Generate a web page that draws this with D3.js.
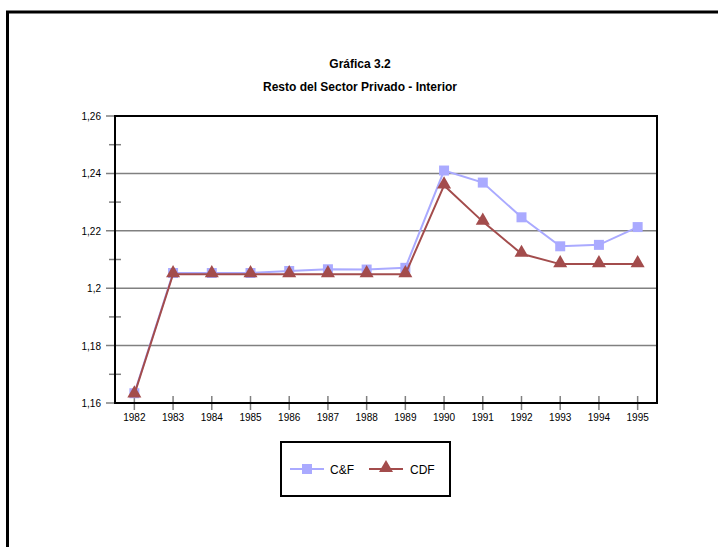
<!DOCTYPE html>
<html>
<head>
<meta charset="utf-8">
<script src="https://cdn.jsdelivr.net/npm/d3@7"></script>
<style>
  body { margin: 0; background: #fff; }
  svg { display: block; font-family: "Liberation Sans", Arial, sans-serif; }
</style>
</head>
<body>
<svg width="718" height="547"></svg>
<script>
// Data
const years = ["1982", "1983", "1984", "1985", "1986", "1987", "1988", "1989", "1990", "1991", "1992", "1993", "1994", "1995"];
const cf = [1.1634, 1.2053, 1.2053, 1.2053, 1.2060, 1.2066, 1.2065, 1.2071, 1.2410, 1.2368, 1.2247, 1.2146, 1.2151, 1.2213];
const cdf = [1.1630, 1.2049, 1.2049, 1.2049, 1.2049, 1.2049, 1.2049, 1.2049, 1.2358, 1.2232, 1.2120, 1.2084, 1.2084, 1.2084];
const yTicks = [1.16, 1.18, 1.20, 1.22, 1.24, 1.26];
const yMinor = [1.17, 1.19, 1.21, 1.23, 1.25];
const seriesNames = ["C&F", "CDF"];
const seriesColors = ["#aaaaff", "#a34c4c"];

const svg = d3.select("svg");
const plotLeft = 115, plotRight = 657, plotTop = 116, plotBottom = 403;

const x = d3.scaleBand().domain(years).range([plotLeft, plotRight]);
const y = d3.scaleLinear().domain([1.16, 1.26]).range([plotBottom, plotTop]);
const fmt = v => d3.format(".2f")(v).replace(/0+$/, "").replace(/\.$/, "").replace(".", ",");

// outer frame (runs off right and bottom)
svg.append("path")
  .attr("d", "M7.5,560 V12 H730")
  .attr("fill", "none").attr("stroke", "#000").attr("stroke-width", 3);

// titles
svg.append("text").attr("x", 360).attr("y", 68).attr("text-anchor", "middle")
  .attr("font-size", 12).attr("font-weight", "bold").text("Gráfica 3.2");
svg.append("text").attr("x", 360).attr("y", 91).attr("text-anchor", "middle")
  .attr("font-size", 12).attr("font-weight", "bold").text("Resto del Sector Privado - Interior");

// gridlines (extend left of the axis as outer ticks)
svg.append("g").selectAll("line").data(yTicks).join("line")
  .attr("x1", plotLeft - 9).attr("x2", plotRight)
  .attr("y1", d => y(d)).attr("y2", d => y(d))
  .attr("stroke", "#808080").attr("stroke-width", 1.5);

// minor ticks crossing the y axis
svg.append("g").selectAll("line").data(yMinor).join("line")
  .attr("x1", plotLeft - 6).attr("x2", plotLeft + 6)
  .attr("y1", d => y(d)).attr("y2", d => y(d))
  .attr("stroke", "#808080").attr("stroke-width", 1.5);

// x ticks crossing the x axis
svg.append("g").selectAll("line").data(years).join("line")
  .attr("x1", d => x(d) + x.bandwidth() / 2).attr("x2", d => x(d) + x.bandwidth() / 2)
  .attr("y1", plotBottom - 7).attr("y2", plotBottom + 7)
  .attr("stroke", "#808080").attr("stroke-width", 1.5);

// plot frame
svg.append("rect").attr("x", plotLeft).attr("y", plotTop)
  .attr("width", plotRight - plotLeft).attr("height", plotBottom - plotTop)
  .attr("fill", "none").attr("stroke", "#000").attr("stroke-width", 2);

// y labels
svg.append("g").selectAll("text").data(yTicks).join("text")
  .attr("x", plotLeft - 14).attr("y", d => y(d) + 4)
  .attr("text-anchor", "end").attr("font-size", 10).text(fmt);

// x labels
svg.append("g").selectAll("text").data(years).join("text")
  .attr("x", d => x(d) + x.bandwidth() / 2).attr("y", plotBottom + 18)
  .attr("text-anchor", "middle").attr("font-size", 10).text(d => d);

const cx = (d, i) => x(years[i]) + x.bandwidth() / 2;
const line = d3.line().x(cx).y(d => y(d));
const square = d3.symbol(d3.symbolSquare, 100);
const tri = d3.symbol(d3.symbolTriangle, 85);

// C&F
svg.append("path").datum(cf).attr("d", line)
  .attr("fill", "none").attr("stroke", seriesColors[0]).attr("stroke-width", 2);
svg.append("g").selectAll("path").data(cf).join("path")
  .attr("d", square).attr("fill", seriesColors[0])
  .attr("transform", (d, i) => `translate(${cx(d, i)},${y(d)})`);

// CDF
svg.append("path").datum(cdf).attr("d", line)
  .attr("fill", "none").attr("stroke", seriesColors[1]).attr("stroke-width", 2);
svg.append("g").selectAll("path").data(cdf).join("path")
  .attr("d", tri).attr("fill", seriesColors[1])
  .attr("transform", (d, i) => `translate(${cx(d, i)},${y(d) - 1})`);

// legend
const lg = svg.append("g");
lg.append("rect").attr("x", 281).attr("y", 442).attr("width", 169).attr("height", 54)
  .attr("fill", "#fff").attr("stroke", "#000").attr("stroke-width", 2);
const items = [
  { name: seriesNames[0], color: seriesColors[0], sym: square, x0: 290, tx: 330 },
  { name: seriesNames[1], color: seriesColors[1], sym: tri, x0: 369, tx: 410 }
];
items.forEach(it => {
  lg.append("line").attr("x1", it.x0).attr("x2", it.x0 + 34).attr("y1", 469).attr("y2", 469)
    .attr("stroke", it.color).attr("stroke-width", 2);
  lg.append("path").attr("d", it.sym).attr("fill", it.color)
    .attr("transform", `translate(${it.x0 + 17},${it.sym === tri ? 468 : 469})`);
  lg.append("text").attr("x", it.tx).attr("y", 473.5).attr("font-size", 12).text(it.name);
});
</script>
</body>
</html>
